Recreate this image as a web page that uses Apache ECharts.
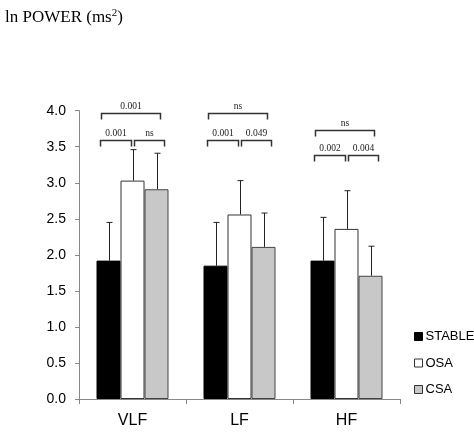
<!DOCTYPE html>
<html><head><meta charset="utf-8">
<script src="https://cdn.jsdelivr.net/npm/echarts@6/dist/echarts.min.js"></script>
<style>html,body{margin:0;padding:0;background:#fff}#c{width:474px;height:440px}</style>
</head><body><div id="c"></div>
<script>
var categories = ['VLF', 'LF', 'HF'];
var seriesNames = ['STABLE', 'OSA', 'CSA'];
var stableMean = [1.92, 1.85, 1.92];
var stableErr = [2.45, 2.45, 2.52];
var osaMean = [3.03, 2.56, 2.36];
var osaErr = [3.46, 3.03, 2.89];
var csaMean = [2.91, 2.11, 1.71];
var csaErr = [3.41, 2.58, 2.12];
var yTicks = [0, 0.5, 1.0, 1.5, 2.0, 2.5, 3.0, 3.5, 4.0];
// bracket labels: [top (STABLE vs CSA), lower-left (STABLE vs OSA), lower-right (OSA vs CSA)]
var bracketTopLabel = ['0.001', 'ns', 'ns'];
var bracketLeftLabel = ['0.001', '0.001', '0.002'];
var bracketRightLabel = ['ns', '0.049', '0.004'];
var bracketTopY = [3.97, 3.97, 3.73];
var bracketLowY = [3.60, 3.60, 3.38];

var fills = ['#000000', '#ffffff', '#c8c8c8'];
var borders = ['#000000', '#333333', '#444444'];
var means = [stableMean, osaMean, csaMean];
var errs = [stableErr, osaErr, csaErr];
var BW = 24;

var chart = echarts.init(document.getElementById('c'));
var series = [];
seriesNames.forEach(function (n, k) {
  series.push({
    name: n, type: 'bar', data: means[k], barWidth: BW, barGap: '0%',
    itemStyle: { color: fills[k], borderColor: borders[k], borderWidth: 1 },
    z: 2
  });
});
seriesNames.forEach(function (n, k) {
  series.push({
    type: 'custom', z: 1, silent: true,
    data: categories.map(function (c, i) { return [i, means[k][i], errs[k][i]]; }),
    renderItem: function (params, api) {
      var off = (k - 1) * BW;
      var p0 = api.coord([api.value(0), api.value(1)]);
      var p1 = api.coord([api.value(0), api.value(2)]);
      var x = Math.round(p0[0] + off) + 0.5;
      return { type: 'group', children: [
        { type: 'line', shape: { x1: x, y1: p0[1], x2: x, y2: p1[1] }, style: { stroke: '#222', lineWidth: 1 } },
        { type: 'line', shape: { x1: x - 3, y1: p1[1], x2: x + 3, y2: p1[1] }, style: { stroke: '#222', lineWidth: 1 } }
      ]};
    }
  });
});
function bracket(x1, x2, y, leg, label) {
  return [
    { type: 'polyline', shape: { points: [[x1, y + leg], [x1, y], [x2, y], [x2, y + leg]] }, style: { stroke: '#333', lineWidth: 1.5, fill: null } },
    { type: 'text', x: (x1 + x2) / 2, y: y - 2, style: { text: label, fill: '#222', font: '9.5px "Liberation Serif"', align: 'center', verticalAlign: 'bottom' } }
  ];
}
series.push({
  type: 'custom', silent: true, z: 3,
  data: categories.map(function (c, i) { return [i, bracketTopY[i], bracketLowY[i]]; }),
  renderItem: function (params, api) {
    var i = params.dataIndex;
    var pt = api.coord([api.value(0), api.value(1)]);
    var pl = api.coord([api.value(0), api.value(2)]);
    var cx = pt[0];
    var ch = [];
    ch = ch.concat(bracket(cx - 31, cx + 28, Math.round(pt[1]) + 0.5, 6, bracketTopLabel[i]));
    ch = ch.concat(bracket(cx - 32, cx - 1, Math.round(pl[1]) + 0.5, 6, bracketLeftLabel[i]));
    ch = ch.concat(bracket(cx + 2, cx + 32, Math.round(pl[1]) + 0.5, 6, bracketRightLabel[i]));
    return { type: 'group', children: ch };
  }
});

chart.setOption({
  animation: false,
  backgroundColor: '#fff',
  title: {
    text: '{a|ln POWER (ms}{s|2}{a|)}', left: 0, top: 3,
    textStyle: { fontWeight: 'normal', rich: {
      a: { fontFamily: 'Liberation Serif', fontSize: 17, fontWeight: 'normal', color: '#000' },
      s: { fontFamily: 'Liberation Serif', fontSize: 11, fontWeight: 'normal', color: '#000', verticalAlign: 'top', padding: [0, 0, 8, 0] }
    } }
  },
  legend: {
    orient: 'vertical', left: 409, top: 325, itemWidth: 8, itemHeight: 8, itemGap: 13.5,
    textStyle: { fontFamily: 'Liberation Sans', fontSize: 13, color: '#000', padding: [0, 0, 0, -2] },
    data: seriesNames.map(function (n, k) {
      return { name: n, icon: 'rect', itemStyle: { color: fills[k], borderColor: k === 0 ? '#000' : '#333', borderWidth: 1 } };
    })
  },
  grid: { left: 79, right: 74, top: 110.7, bottom: 41, containLabel: false },
  xAxis: {
    type: 'category', data: categories,
    axisLine: { lineStyle: { color: '#888', width: 1 } },
    axisTick: { show: true, length: 5, lineStyle: { color: '#888' } },
    axisLabel: { fontFamily: 'Liberation Sans', fontSize: 16, color: '#000', margin: 14 }
  },
  yAxis: {
    type: 'value', min: 0, max: 4, interval: 0.5,
    axisLine: { show: true, lineStyle: { color: '#888', width: 1 } },
    axisTick: { show: true, length: 4, lineStyle: { color: '#888' } },
    splitLine: { show: false },
    axisLabel: { fontFamily: 'Liberation Sans', fontSize: 14, color: '#000', margin: 13,
      formatter: function (v) { return v.toFixed(1); } }
  },
  series: series
});
</script></body></html>
